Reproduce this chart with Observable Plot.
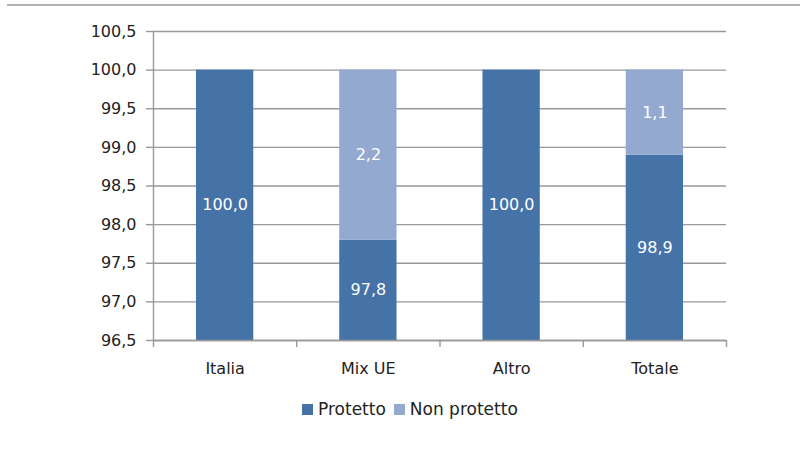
<!DOCTYPE html>
<html>
<head>
<meta charset="utf-8">
<script src="https://cdn.jsdelivr.net/npm/d3@7"></script>
<script src="https://cdn.jsdelivr.net/npm/@observablehq/plot@0.6"></script>
<style>
  body { margin: 0; background: #fff; font-family: "DejaVu Sans", Verdana, sans-serif; }
  #wrap { position: relative; width: 800px; height: 461px; overflow: hidden; }
  #topline { position: absolute; left: 7px; right: 0; top: 4px; height: 0; border-top: 2px solid #b3b3b3; }
  #chart { position: absolute; left: 0; top: 0; }
  #legend { position: absolute; top: 399px; left: 302px; font-size: 17px; color: #222; display: flex; align-items: center; white-space: nowrap; }
  #legend .sw { display: inline-block; width: 11px; height: 11px; margin-right: 5px; }
  #legend .item { display: flex; align-items: center; margin-right: 8px; }
</style>
</head>
<body>
<div id="wrap">
  <div id="topline"></div>
  <div id="chart"></div>
  <div id="legend"></div>
</div>
<script>
const categories = ["Italia", "Mix UE", "Altro", "Totale"];
const protetto = [100.0, 97.8, 100.0, 98.9];
const nonProtetto = [0, 2.2, 0, 1.1];
const series = ["Protetto", "Non protetto"];
const colors = ["#4572a7", "#93a9cf"];
const yTicks = [96.5, 97.0, 97.5, 98.0, 98.5, 99.0, 99.5, 100.0, 100.5];
const yMin = 96.5, yMax = 100.5;

const fmt = d => d.toFixed(1).replace(".", ",");

const rows = [];
categories.forEach((c, i) => {
  const p = protetto[i], n = nonProtetto[i];
  rows.push({cat: c, i, series: series[0], value: p, y1: 0, y2: p,
             ymid: (Math.max(yMin, 0) + p) / 2});
  if (n > 0) rows.push({cat: c, i, series: series[1], value: n, y1: p, y2: p + n,
             ymid: (Math.max(yMin, p) + p + n) / 2});
});

const chart = Plot.plot({
  width: 800,
  height: 390,
  marginTop: 31,
  marginBottom: 50,
  marginLeft: 153,
  marginRight: 74,
  style: { fontFamily: "DejaVu Sans, Verdana, sans-serif", fontSize: "16px", color: "#222", background: "transparent" },
  x: { domain: [0, categories.length] },
  y: { domain: [yMin, yMax] },
  color: { domain: series, range: colors },
  marks: [
    Plot.gridY(yTicks, { stroke: "#999999", strokeOpacity: 1, strokeWidth: 1.4 }),
    Plot.rectY(rows, { x1: d => d.i + 0.3, x2: d => d.i + 0.7, y1: "y1", y2: "y2", fill: "series", clip: true }),
    Plot.text(rows, { x: d => d.i + 0.5, y: "ymid", text: d => fmt(d.value), fill: "white", fontSize: 16 }),
    Plot.ruleX([0], { y1: yMin, y2: yMax, stroke: "#999999", strokeWidth: 1.4 }),
    Plot.ruleY([yMin], { stroke: "#999999", strokeWidth: 1.4 }),
    Plot.axisY({ ticks: yTicks, tickFormat: fmt, tickSize: 7, tickPadding: 10, stroke: "#999999", strokeWidth: 1.4, label: null, fontSize: 16 }),
    Plot.axisX({ ticks: d3.range(0, categories.length + 1), tickFormat: () => "", tickSize: 7, stroke: "#999999", strokeWidth: 1.4, label: null }),
    Plot.axisX({ ticks: categories.map((c, i) => i + 0.5), tickFormat: v => categories[Math.floor(v)], tickSize: 0, tickPadding: 22, label: null, fontSize: 16 })
  ]
});
document.getElementById("chart").appendChild(chart);

const legend = document.getElementById("legend");
series.forEach((s, k) => {
  const item = document.createElement("span");
  item.className = "item";
  const sw = document.createElement("span");
  sw.className = "sw";
  sw.style.background = colors[k];
  item.appendChild(sw);
  item.appendChild(document.createTextNode(s));
  legend.appendChild(item);
});
</script>
</body>
</html>
